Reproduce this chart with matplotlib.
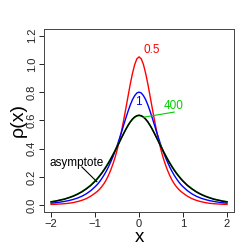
import numpy as np
import matplotlib
matplotlib.use("Agg")
import matplotlib.pyplot as plt

plt.rcParams['font.family'] = ['Liberation Sans', 'DejaVu Sans']

# x values for the right half, curves are symmetric around 0
x_half = [0.0, 0.05, 0.1, 0.15, 0.2, 0.25, 0.3, 0.35, 0.4, 0.45, 0.5,
          0.55, 0.6, 0.65, 0.7, 0.75, 0.8, 0.85, 0.9, 0.95, 1.0,
          1.1, 1.2, 1.3, 1.4, 1.5, 1.6, 1.7, 1.8, 1.9, 2.0]

# parameter 0.5 (red)
rho_05 = [1.050, 1.036, 0.995, 0.933, 0.857, 0.772, 0.686, 0.602, 0.523, 0.454, 0.389,
          0.333, 0.286, 0.244, 0.208, 0.177, 0.151, 0.130, 0.112, 0.097, 0.085,
          0.063, 0.046, 0.034, 0.025, 0.018, 0.013, 0.010, 0.008, 0.006, 0.005]

# parameter 1 (blue)
rho_1 = [0.800, 0.794, 0.775, 0.747, 0.709, 0.665, 0.617, 0.567, 0.516, 0.468, 0.421,
         0.379, 0.338, 0.302, 0.268, 0.238, 0.211, 0.187, 0.165, 0.146, 0.130,
         0.102, 0.080, 0.063, 0.050, 0.040, 0.032, 0.026, 0.021, 0.017, 0.014]

# parameter 400 (green)
rho_400 = [0.634, 0.631, 0.623, 0.608, 0.589, 0.565, 0.538, 0.508, 0.477, 0.446, 0.415,
           0.384, 0.355, 0.326, 0.299, 0.274, 0.250, 0.228, 0.208, 0.189, 0.172,
           0.141, 0.117, 0.096, 0.079, 0.065, 0.053, 0.043, 0.036, 0.029, 0.024]

# asymptote (black)
rho_asym = [0.637, 0.633, 0.624, 0.609, 0.589, 0.565, 0.537, 0.507, 0.476, 0.444, 0.413,
            0.382, 0.352, 0.323, 0.296, 0.271, 0.247, 0.225, 0.205, 0.186, 0.169,
            0.139, 0.115, 0.094, 0.077, 0.063, 0.052, 0.042, 0.035, 0.028, 0.023]

x_ticks = [-2, -1, 0, 1, 2]
y_ticks = [0.0, 0.2, 0.4, 0.6, 0.8, 1.0, 1.2]


def mirror(vals, neg=False):
    v = np.array(vals)
    left = -v[::-1] if neg else v[::-1]
    return np.concatenate([left, v[1:]])


x = mirror(x_half, neg=True)

fig = plt.figure(figsize=(2.49, 2.49), dpi=100)
ax = fig.add_axes([0.177, 0.149, 0.763, 0.735])

ax.plot(x, mirror(rho_05), color='#ff0000', lw=1.0)
ax.plot(x, mirror(rho_1), color='#0000ff', lw=1.0)
ax.plot(x, mirror(rho_400), color='#00cd00', lw=1.1)
ax.plot(x, mirror(rho_asym), color='black', lw=1.1)

ax.set_xlim(-2.16, 2.16)
ax.set_ylim(-0.048, 1.248)
ax.set_xticks(x_ticks)
ax.set_xticklabels(['\u22122', '\u22121', '0', '1', '2'])
ax.set_yticks(y_ticks)
ax.set_yticklabels(['%.1f' % v for v in y_ticks], rotation=90, va='center')
ax.tick_params(direction='out', length=3.6, width=0.7, labelsize=8,
               colors='#222222', pad=1.5)
for s in ax.spines.values():
    s.set_color('#444444')
    s.set_linewidth(0.7)

ax.set_xlabel('x', fontsize=13.5, labelpad=0)
ax.set_ylabel('\u03c1(x)', fontsize=14, labelpad=0)

# curve labels
ax.text(0.09, 1.10, '0.5', color='#ff0000', fontsize=8.5, va='center', ha='left')
ax.text(-0.02, 0.73, '1', color='#0000ff', fontsize=8.5, va='center', ha='center')
ax.text(0.78, 0.70, '400', color='#00cd00', fontsize=8.5, va='center', ha='center')
ax.plot([0.11, 0.80], [0.623, 0.659], color='#00cd00', lw=0.8)
ax.text(-1.41, 0.30, 'asymptote', color='black', fontsize=8.5, va='center', ha='center')
ax.plot([-1.30, -0.96], [0.27, 0.166], color='black', lw=0.8)

fig.savefig('out.png', dpi=100)
